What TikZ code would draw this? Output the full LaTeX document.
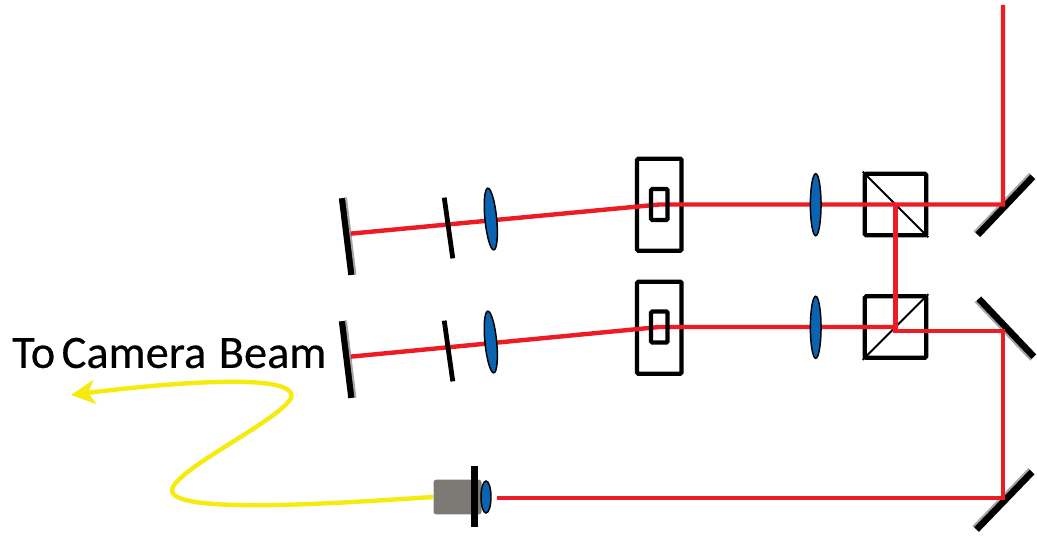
\documentclass[tikz,border=0pt]{standalone}
\usepackage{fontspec}
\setmainfont{Carlito}
\newfontfamily\labelfont[FakeBold=0.35]{Carlito}
\usetikzlibrary{shapes.geometric, arrows.meta, positioning}
\definecolor{beamcolor}{RGB}{237, 28, 36}
\definecolor{fibrecolor}{RGB}{245, 235, 15}
\definecolor{lenscolor}{RGB}{10, 100, 178}
\definecolor{camcolor}{RGB}{125, 122, 118}
\tikzset{
  bigbox/.style={
    rectangle, draw=black, line width=3.2pt, rounded corners=1pt,
    minimum width=33.4pt, minimum height=69pt, inner sep=0pt
  },
  slitbox/.style={
    rectangle, draw=black, line width=3.2pt, rounded corners=1pt,
    minimum width=12.4pt, minimum height=23.3pt, inner sep=0pt
  },
  cubebox/.style={
    rectangle, draw=black, line width=3.2pt, rounded corners=1pt,
    minimum width=46pt, minimum height=46pt, inner sep=0pt
  },
  lens/.style={
    ellipse, draw=black, line width=1.1pt, fill=lenscolor,
    minimum width=8pt, minimum height=46.5pt, inner sep=0pt
  },
  plate/.style={
    rectangle, fill=black, inner sep=0pt,
    minimum width=46pt, minimum height=3.6pt
  },
  endmirror/.style={
    rectangle, fill=black, inner sep=0pt,
    minimum width=58pt, minimum height=5.2pt
  },
  foldmirror/.style={
    rectangle, fill=black, inner sep=0pt,
    minimum width=60pt, minimum height=5.6pt
  },
  sheen/.style={draw=gray!70, line width=1.5pt},
  beam/.style={draw=beamcolor, line width=3.3pt, line join=miter},
  diag/.style={draw=black, line width=1.5pt},
  fibre/.style={
    draw=fibrecolor, line width=3.3pt,
    -{Stealth[length=18pt, width=18pt, inset=5pt]}
  }
}

\begin{document}
\begin{tikzpicture}[x=0.75pt, y=-0.75pt]
  \useasboundingbox (0,0) rectangle (1037,535);

  % ── Beam points ────────────────────────────────────────────────
  \coordinate (laserin) at (1003,5);
  \coordinate (foldT) at (1003,204.5);
  \coordinate (foldB) at (1003,330.7);
  \coordinate (foldC) at (1003,498);
  \coordinate (slitT) at (659.3,204.5);
  \coordinate (slitB) at (659.3,327);
  \coordinate (cross) at (895.5,330.7);
  \coordinate (camin) at (497,498);
  \coordinate (fibretip) at (71,395);

  % ── Boxes and mirrors ──────────────────────────────────────────
  \node[bigbox] (boxT) at (659.3,204.7) {};
  \node[bigbox] (boxB) at (659.3,327.7) {};
  \node[cubebox] (cubeT) at (895.5,204.5) {};
  \node[cubebox] (cubeB) at (895.5,327) {};
  \draw[diag] (cubeT.north west) -- (cubeT.south east);
  \draw[diag] (cubeB.south west) -- (cubeB.north east);

  \node[endmirror, rotate=-83] (endT) at (347,236.5) {};
  \node[endmirror, rotate=-83] (endB) at (347,359.5) {};
  \draw[sheen] (endT.north west) -- (endT.north east);
  \draw[sheen] (endB.north west) -- (endB.north east);
  \node[foldmirror, rotate=46.5] (mirrorT) at (1005,205.5) {};
  \node[foldmirror, rotate=-46.5] (mirrorB) at (1006,328) {};
  \node[foldmirror, rotate=46] (mirrorC) at (1004,500.5) {};
  \draw[sheen] (mirrorT.north west) -- (mirrorT.north east);
  \draw[sheen] (mirrorB.south west) -- (mirrorB.south east);
  \draw[sheen] (mirrorC.north west) -- (mirrorC.north east);

  % ── Beams ──────────────────────────────────────────────────────
  \draw[beam] (laserin) -- (foldT) -- (slitT) -- ([yshift=1.8pt]endT.north);
  \draw[beam] (cubeB.center) -- (slitB) -- ([yshift=1.8pt]endB.north);
  \draw[beam] (cubeT.center) -- (cross) -- (foldB) -- (foldC) -- (camin);

  % ── Optics on top of the beams ─────────────────────────────────
  \node[slitbox] (slitboxT) at (slitT) {};
  \node[slitbox] (slitboxB) at (slitB) {};
  \node[lens] (lensA) at (815.7,204.7) {};
  \node[lens] (lensB) at (815.7,327.3) {};
  \node[lens, minimum width=8.8pt, rotate=5.6] (lensC) at (490.8,219) {};
  \node[lens, minimum width=8.8pt, rotate=5.6] (lensD) at (490.8,342) {};
  \node[plate, rotate=-82] (plateT) at (448.5,228) {};
  \node[plate, rotate=-82] (plateB) at (448.5,351) {};

  % ── Camera ─────────────────────────────────────────────────────
  \node[rectangle, fill=camcolor, rounded corners=2pt, inner sep=0pt,
        minimum width=36pt, minimum height=26pt] (cam) at (457.5,497) {};
  \node[rectangle, fill=black, inner sep=0pt,
        minimum width=5.5pt, minimum height=46pt] (camplate) at (474.5,496.5) {};
  \node[ellipse, draw=black, line width=1.1pt, fill=lenscolor, inner sep=0pt,
        minimum width=7.5pt, minimum height=24pt] (camlens) at (486,497) {};

  % ── Fibre and label ────────────────────────────────────────────
  \draw[fibre] (cam.west) .. controls (340,503) and (170,515) .. (172,490)
    .. controls (174,470) and (280,420) .. (291,398)
    .. controls (300,370) and (150,385) .. (fibretip);
  \node[font=\labelfont\fontsize{34.8pt}{38pt}\selectfont, anchor=west, inner sep=0pt]
    (label) at (12,353) {To\hspace{0.14em}Camera\hspace{0.27em}Beam};

\end{tikzpicture}
\end{document}
